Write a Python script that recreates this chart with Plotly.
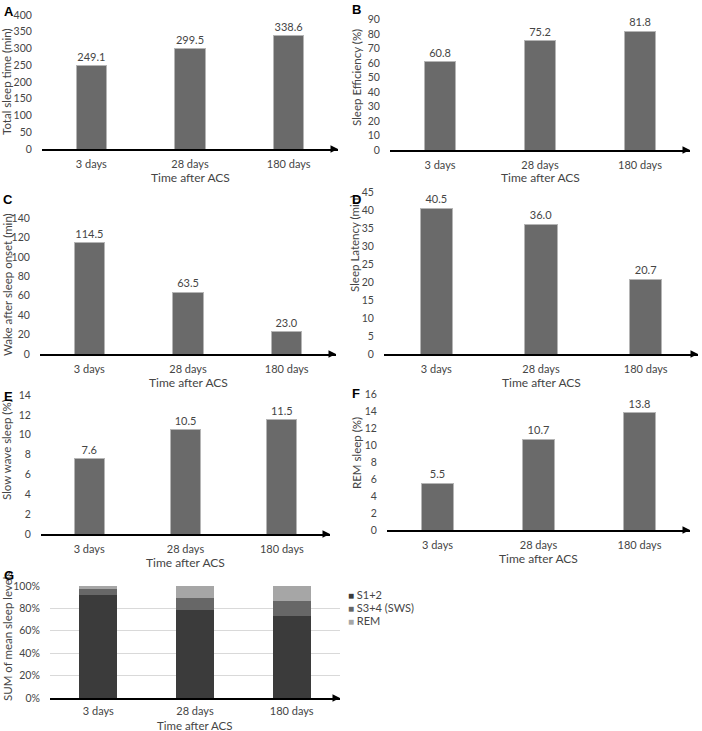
import plotly.graph_objects as go

W, H = 702, 731

categories = ["3 days", "28 days", "180 days"]

total_sleep = [249.1, 299.5, 338.6]
sleep_eff = [60.8, 75.2, 81.8]
waso = [114.5, 63.5, 23.0]
sleep_latency = [40.5, 36.0, 20.7]
sws = [7.6, 10.5, 11.5]
rem = [5.5, 10.7, 13.8]

stage_names = ["S1+2", "S3+4 (SWS)", "REM"]
stage_s12 = [92.0, 79.0, 73.5]
stage_s34 = [5.0, 10.0, 13.3]
stage_rem = [3.0, 11.0, 13.2]
stage_colors = ["#3b3b3b", "#676767", "#a6a6a6"]

FONT = "Lato"
TXT = "#454545"
BAR = "#6a6a6a"


def px_x(x):
    return x / W


def px_y(y):
    return 1 - y / H


# letter, values, y title, y max, dtick, x px domain, y px (zero, top), letter pos, x-title y, y-title (x, y)
panels = [
    ("A", total_sleep, "Total sleep time (min)", 400, 50, (42, 338), (149, 15), (2, 2), 178, (7, 82)),
    ("B", sleep_eff, "Sleep Efficiency (%)", 100, 10, (390, 690), (150, 5), (350, 0), 178, (356, 78)),
    ("C", waso, "Wake after sleep onset (min)", 140, 20, (40, 336), (354, 218), (1, 190), 382, (7, 285)),
    ("D", sleep_latency, "Sleep Latency (min)", 45, 5, (384, 698), (354, 192), (350, 190), 382, (355, 244)),
    ("E", sws, "Slow wave sleep (%)", 14, 2, (41, 330), (534, 395), (2, 387), 562, (6, 450)),
    ("F", rem, "REM sleep (%)", 16, 2, (387, 690), (530, 394), (350, 384), 558, (356, 453)),
]

fig = go.Figure()
layout = dict(
    width=W, height=H, margin=dict(l=0, r=0, t=0, b=0, autoexpand=False),
    plot_bgcolor="white", paper_bgcolor="white",
    font=dict(family=FONT, size=11, color=TXT),
    showlegend=False,
    annotations=[],
)


def xaxis_style(dom, anchor, ticklen=4):
    return dict(
        domain=dom, anchor=anchor, automargin=False,
        showline=True, linecolor="black", linewidth=1.5,
        ticks="outside", ticklen=ticklen, tickcolor="rgba(0,0,0,0)",
        tickfont=dict(size=11, color=TXT), showgrid=False,
    )


def side_texts(letter, xd, title_y, ytitle, ypos, lpos, title_size=12):
    return [
        dict(xref="paper", yref="paper", x=px_x((xd[0] + xd[1]) / 2), y=px_y(title_y),
             xanchor="center", yanchor="middle",
             text="Time after ACS", showarrow=False, font=dict(size=title_size, color=TXT)),
        dict(xref="paper", yref="paper", x=px_x(ypos[0]), y=px_y(ypos[1]),
             xanchor="center", yanchor="middle",
             text=ytitle, textangle=-90, showarrow=False, font=dict(size=11.5, color=TXT)),
        dict(xref="paper", yref="paper", x=px_x(lpos[0]), y=px_y(lpos[1]),
             xanchor="left", yanchor="top",
             text=f"<b>{letter}</b>", showarrow=False,
             font=dict(family="Arial, Liberation Sans", size=13, color="black")),
    ]


def arrow(xa, ya):
    return dict(xref=f"{xa} domain", yref=ya, x=1.0, y=0, ax=-7, ay=0,
                showarrow=True, arrowhead=2, arrowsize=1, arrowwidth=1.5,
                arrowcolor="black", text="")


for i, (letter, vals, ytitle, ymax, dtick, xd, yd, lpos, title_y, ypos) in enumerate(panels, start=1):
    xa = "x" if i == 1 else f"x{i}"
    ya = "y" if i == 1 else f"y{i}"
    fig.add_trace(go.Bar(
        x=categories, y=vals, xaxis=xa, yaxis=ya, width=0.31,
        marker=dict(color=BAR, line=dict(color="#b5b5b5", width=1)),
        text=[f"{v:.1f}" for v in vals], textposition="outside",
        textfont=dict(size=11, color=TXT), cliponaxis=False,
    ))
    layout[f"xaxis{'' if i == 1 else i}"] = xaxis_style([px_x(xd[0]), px_x(xd[1])], ya)
    layout[f"yaxis{'' if i == 1 else i}"] = dict(
        domain=[px_y(yd[0]), px_y(yd[1])], anchor=xa, automargin=False,
        range=[0, ymax], dtick=dtick, showgrid=False, zeroline=False,
        ticks="outside", ticklen=7, tickcolor="rgba(0,0,0,0)",
        tickfont=dict(size=10.5, color=TXT),
    )
    layout["annotations"].append(arrow(xa, ya))
    layout["annotations"] += side_texts(letter, xd, title_y, ytitle, ypos, lpos)

# panel G: stacked percentages
for name, vals, col in zip(stage_names, [stage_s12, stage_s34, stage_rem], stage_colors):
    fig.add_trace(go.Bar(
        x=categories, y=vals, name=name, xaxis="x7", yaxis="y7", width=0.39,
        marker=dict(color=col, line=dict(width=0)),
    ))

layout["barmode"] = "stack"
layout["xaxis7"] = xaxis_style([px_x(50), px_x(340)], "y7", ticklen=2)
layout["yaxis7"] = dict(
    domain=[px_y(698), px_y(586)], anchor="x7", automargin=False,
    range=[0, 100], dtick=20, ticksuffix="%",
    showgrid=True, gridcolor="#d9d9d9", gridwidth=1, zeroline=False,
    ticks="outside", ticklen=7, tickcolor="rgba(0,0,0,0)",
    tickfont=dict(size=10.5, color=TXT),
)
layout["annotations"].append(arrow("x7", "y7"))
layout["annotations"] += side_texts("G", (50, 340), 725, "SUM of mean sleep levels", (7, 636), (2, 566),
                                    title_size=11.5)

# compact legend for panel G (small squares, tight rows)
for k, (name, col) in enumerate(zip(stage_names, stage_colors)):
    layout["annotations"].append(dict(
        xref="paper", yref="paper", x=px_x(346), y=px_y(594 + 13 * k),
        xanchor="left", yanchor="middle", showarrow=False,
        text=f"<span style='color:{col};font-size:10px'>■</span> {name}",
        font=dict(size=11, color=TXT),
    ))

fig.update_layout(**layout)
# drop the default 8px body margin so the figure fills the window
fig.write_html("out.html", config={"displayModeBar": False},
               post_script="document.body.style.margin='0';")
